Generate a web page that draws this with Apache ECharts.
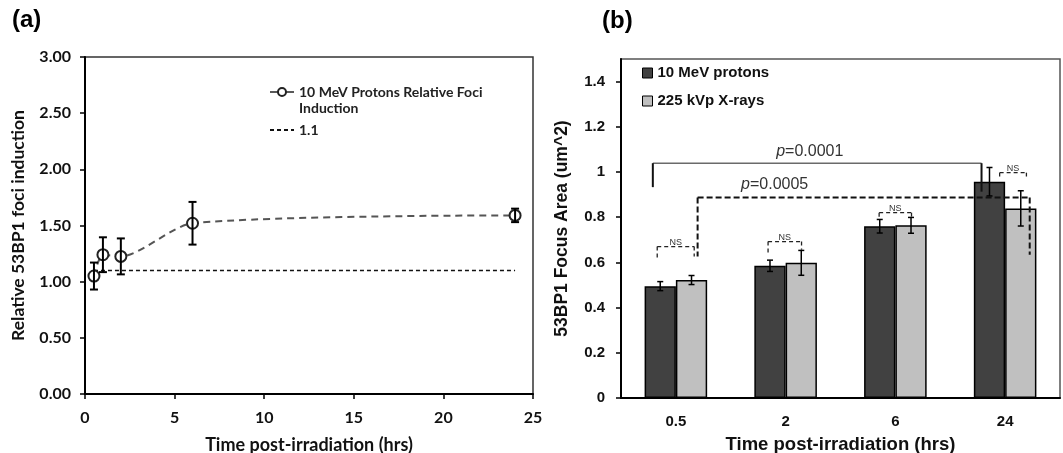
<!DOCTYPE html>
<html>
<head>
<meta charset="utf-8">
<script src="https://cdn.jsdelivr.net/npm/echarts@6/dist/echarts.min.js"></script>
<style>
html,body{margin:0;padding:0;background:#fff;}
#main{width:1063px;height:453px;}
</style>
</head>
<body>
<div id="main"></div>
<script>
// (a) relative 53BP1 foci induction, 10 MeV protons
var timeA = [0.5, 1, 2, 6, 24];
var relFoci = [1.05, 1.24, 1.225, 1.52, 1.59];
var relFociErr = [0.12, 0.155, 0.16, 0.19, 0.06];
var refLevel = 1.1;
var refSpan = [0.5, 24];
var ticksA_y = [0, 0.5, 1, 1.5, 2, 2.5, 3];

// (b) 53BP1 focus area
var timeB = ['0.5', '2', '6', '24'];
var protonArea = [0.495, 0.585, 0.76, 0.957];
var protonErr = [0.02, 0.025, 0.03, 0.063];
var xrayArea = [0.522, 0.598, 0.764, 0.839];
var xrayErr = [0.02, 0.055, 0.035, 0.078];

// significance brackets, x in category units (0 = '0.5')
var brackets = [
    {from: -0.21, to: 2.785, top: 1.039, feet: [0.933, 0.913], label: 'p=0.0001', at: [1.22, 1.09], kind: 'solid'},
    {from: 0.198, to: 3.224, top: 0.887, feet: [0.626, 0.634], label: 'p=0.0005', at: [0.90, 0.943], kind: 'dash'},
    {from: -0.17, to: 0.167, top: 0.670, feet: [0.619, 0.626], label: 'NS', kind: 'ns'},
    {from: 0.84, to: 1.145, top: 0.692, feet: [0.638, 0.656], label: 'NS', kind: 'ns'},
    {from: 1.852, to: 2.147, top: 0.820, feet: [0.796, 0.796], label: 'NS', kind: 'ns'},
    {from: 2.95, to: 3.194, top: 0.997, feet: [0.980, 0.980], label: 'NS', kind: 'ns'}
];

var nameA = '10 MeV Protons Relative Foci\nInduction';
var nameRef = '1.1';
var nameP = '10 MeV protons';
var nameX = '225 kVp X-rays';

var fontA = 'Lato';
var fontB = '"Liberation Sans", Arial';
var barGapCat = 0.43;
var barShift = (1 - barGapCat) / 4;

var myChart = echarts.init(document.getElementById('main'));

function errRows(xs, vals, errs) {
    return vals.map(function (v, i) { return [xs[i], v - errs[i], v + errs[i]]; });
}

// 误差线
function errorBar(shift, cap, lw) {
    return function (params, api) {
        var hi = api.coord([api.value(0), api.value(2)]);
        var lo = api.coord([api.value(0), api.value(1)]);
        var cx = hi[0];
        if (shift) {
            cx += shift * api.size([1, 0])[0];
        }
        var st = {stroke: '#000', lineWidth: lw};
        return {
            type: 'group',
            children: [
                {type: 'line', shape: {x1: cx, y1: hi[1], x2: cx, y2: lo[1]}, style: st},
                {type: 'line', shape: {x1: cx - cap, y1: hi[1], x2: cx + cap, y2: hi[1]}, style: st},
                {type: 'line', shape: {x1: cx - cap, y1: lo[1], x2: cx + cap, y2: lo[1]}, style: st}
            ]
        };
    };
}

// 显著性括号
function bracketItem(params, api) {
    var b = brackets[params.dataIndex];
    var x0 = api.coord([0, 0])[0];
    var band = api.coord([1, 0])[0] - x0;
    var xa = x0 + b.from * band, xb = x0 + b.to * band;
    var yt = api.coord([0, b.top])[1];
    var yl = api.coord([0, b.feet[0]])[1];
    var yr = api.coord([0, b.feet[1]])[1];
    var kids = [];
    var barStyle, legStyle;
    if (b.kind === 'solid') {
        barStyle = {stroke: '#6a6a6a', lineWidth: 1.5};
        legStyle = {stroke: '#111', lineWidth: 2};
    } else if (b.kind === 'dash') {
        barStyle = legStyle = {stroke: '#111', lineWidth: 2, lineDash: [6, 3]};
    } else {
        barStyle = legStyle = {stroke: '#222', lineWidth: 1.3, lineDash: [4, 3]};
    }
    kids.push({type: 'line', shape: {x1: xa, y1: yt, x2: xb, y2: yt}, style: barStyle});
    kids.push({type: 'line', shape: {x1: xa, y1: yt, x2: xa, y2: yl}, style: legStyle});
    kids.push({type: 'line', shape: {x1: xb, y1: yt, x2: xb, y2: yr}, style: legStyle});
    if (b.kind === 'ns') {
        kids.push({type: 'text', x: (xa + xb) / 2, y: yt - 4, style: {
            text: b.label, fontSize: 9, fontFamily: fontB, fill: '#333', align: 'center', verticalAlign: 'middle'
        }});
    } else {
        var lp = [x0 + b.at[0] * band, api.coord([0, b.at[1]])[1]];
        kids.push({type: 'text', x: lp[0], y: lp[1], style: {
            text: '{i|p}=' + b.label.slice(2),
            fontSize: 16, fontFamily: fontB, fill: '#333', align: 'center', verticalAlign: 'middle',
            rich: {i: {fontStyle: 'italic', fontSize: 16, fontFamily: fontB, fill: '#333'}}
        }});
    }
    return {type: 'group', children: kids};
}

var axisTextA = {fontFamily: fontA, fontWeight: 'bold', fontSize: 16, color: '#111'};
var axisTextB = {fontFamily: fontB, fontWeight: 'bold', fontSize: 15, color: '#111'};

var option = {
    animation: false,
    backgroundColor: '#fff',
    title: [
        {text: '(a)', left: 12, top: 8, padding: 0, textStyle: {fontFamily: fontB, fontWeight: 'bold', fontSize: 24, color: '#000'}},
        {text: '(b)', left: 602, top: 9, padding: 0, textStyle: {fontFamily: fontB, fontWeight: 'bold', fontSize: 24, color: '#000'}}
    ],
    legend: [
        {
            orient: 'vertical',
            left: 269,
            top: 68,
            padding: 0,
            itemGap: 6,
            itemWidth: 24,
            itemHeight: 10,
            textStyle: {fontFamily: fontA, fontWeight: 'bold', fontSize: 14, color: '#222', lineHeight: 16},
            // 首行与图标对齐
            formatter: function (name) { return name === nameA ? '\n' + name : name; },
            data: [
                {name: nameA, lineStyle: {type: 'solid', color: '#222', width: 1.5}},
                {name: nameRef, itemStyle: {color: 'rgba(0,0,0,0)', borderColor: 'rgba(0,0,0,0)', borderWidth: 0}}
            ]
        },
        {
            orient: 'vertical',
            left: 642,
            top: 64,
            padding: 0,
            itemGap: 10,
            itemWidth: 10,
            itemHeight: 10,
            icon: 'rect',
            itemStyle: {borderColor: '#000', borderWidth: 1},
            textStyle: {fontFamily: fontB, fontWeight: 'bold', fontSize: 15, color: '#111', lineHeight: 18},
            data: [nameP, nameX]
        }
    ],
    grid: [
        {left: 85, top: 57, width: 448, height: 337, show: true, borderColor: '#333', borderWidth: 1.5, outerBoundsMode: 'none', containLabel: false},
        {left: 621, top: 59, width: 439, height: 339, show: true, borderColor: '#555', borderWidth: 1.5, outerBoundsMode: 'none', containLabel: false}
    ],
    xAxis: [
        {
            gridIndex: 0, type: 'value', min: 0, max: 25, interval: 5,
            name: 'Time post-irradiation (hrs)', nameLocation: 'middle', nameGap: 42,
            nameTextStyle: {fontFamily: fontA, fontWeight: 'bold', fontSize: 18, color: '#111'},
            axisLine: {lineStyle: {color: '#000', width: 2}},
            axisTick: {length: 5, lineStyle: {color: '#000', width: 1.5}},
            axisLabel: Object.assign({margin: 16}, axisTextA),
            splitLine: {show: false}
        },
        {
            gridIndex: 1, type: 'category', data: timeB,
            name: 'Time post-irradiation (hrs)', nameLocation: 'middle', nameGap: 37,
            nameTextStyle: {fontFamily: fontB, fontWeight: 'bold', fontSize: 18.5, color: '#111'},
            axisLine: {lineStyle: {color: '#000', width: 2}},
            axisTick: {alignWithLabel: true, length: 5, lineStyle: {color: '#000', width: 1.5}},
            axisLabel: Object.assign({margin: 16}, axisTextB),
            splitLine: {show: false}
        }
    ],
    yAxis: [
        {
            gridIndex: 0, type: 'value', min: ticksA_y[0], max: ticksA_y[ticksA_y.length - 1], interval: 0.5,
            name: 'Relative 53BP1 foci induction', nameLocation: 'middle', nameGap: 58,
            nameTextStyle: {fontFamily: fontA, fontWeight: 'bold', fontSize: 17.5, color: '#111'},
            axisLine: {show: true, lineStyle: {color: '#000', width: 2}},
            axisTick: {show: true, length: 5, lineStyle: {color: '#000', width: 1.5}},
            axisLabel: Object.assign({margin: 14, formatter: function (v) { return v.toFixed(2); }}, axisTextA),
            splitLine: {show: false}
        },
        {
            gridIndex: 1, type: 'value', min: 0, max: 1.5, interval: 0.2,
            name: '53BP1 Focus Area (um^2)', nameLocation: 'middle', nameGap: 50,
            nameTextStyle: {fontFamily: fontB, fontWeight: 'bold', fontSize: 17.5, color: '#111'},
            axisLine: {show: true, lineStyle: {color: '#000', width: 2}},
            axisTick: {show: true, length: 5, lineStyle: {color: '#000', width: 1.5}},
            axisLabel: Object.assign({margin: 16, showMaxLabel: false}, axisTextB),
            splitLine: {show: false}
        }
    ],
    series: [
        {
            name: nameA, type: 'line', xAxisIndex: 0, yAxisIndex: 0,
            data: timeA.map(function (t, i) { return [t, relFoci[i]]; }),
            smooth: 0.25,
            symbol: 'emptyCircle', symbolSize: 11,
            lineStyle: {color: '#555', width: 2, type: [7, 5]},
            itemStyle: {color: '#222', borderColor: '#222', borderWidth: 1.5},
            z: 4
        },
        {
            name: nameRef, type: 'line', xAxisIndex: 0, yAxisIndex: 0,
            data: refSpan.map(function (t) { return [t, refLevel]; }),
            symbol: 'none',
            lineStyle: {color: '#111', width: 1.5, type: [4, 3]},
            itemStyle: {color: '#111'},
            z: 3
        },
        {
            type: 'custom', xAxisIndex: 0, yAxisIndex: 0,
            data: errRows(timeA, relFoci, relFociErr),
            encode: {x: 0, y: [1, 2]},
            renderItem: errorBar(0, 4, 2),
            z: 5
        },
        {
            name: nameP, type: 'bar', xAxisIndex: 1, yAxisIndex: 1,
            data: protonArea,
            barGap: 0, barCategoryGap: (barGapCat * 100) + '%',
            itemStyle: {color: '#414141', borderColor: '#000', borderWidth: 1.5}
        },
        {
            name: nameX, type: 'bar', xAxisIndex: 1, yAxisIndex: 1,
            data: xrayArea,
            barGap: 0, barCategoryGap: (barGapCat * 100) + '%',
            itemStyle: {color: '#c0c0c0', borderColor: '#000', borderWidth: 1.5}
        },
        {
            type: 'custom', xAxisIndex: 1, yAxisIndex: 1,
            data: errRows([0, 1, 2, 3], protonArea, protonErr),
            encode: {x: 0, y: [1, 2]},
            renderItem: errorBar(-barShift, 3, 1.5),
            z: 5
        },
        {
            type: 'custom', xAxisIndex: 1, yAxisIndex: 1,
            data: errRows([0, 1, 2, 3], xrayArea, xrayErr),
            encode: {x: 0, y: [1, 2]},
            renderItem: errorBar(barShift, 3, 1.5),
            z: 5
        },
        {
            type: 'custom', xAxisIndex: 1, yAxisIndex: 1,
            data: brackets.map(function (b) { return [0, b.top]; }),
            encode: {x: 0, y: 1},
            renderItem: bracketItem,
            z: 6
        }
    ]
};

myChart.setOption(option);
window.onresize = myChart.resize;
</script>
</body>
</html>
